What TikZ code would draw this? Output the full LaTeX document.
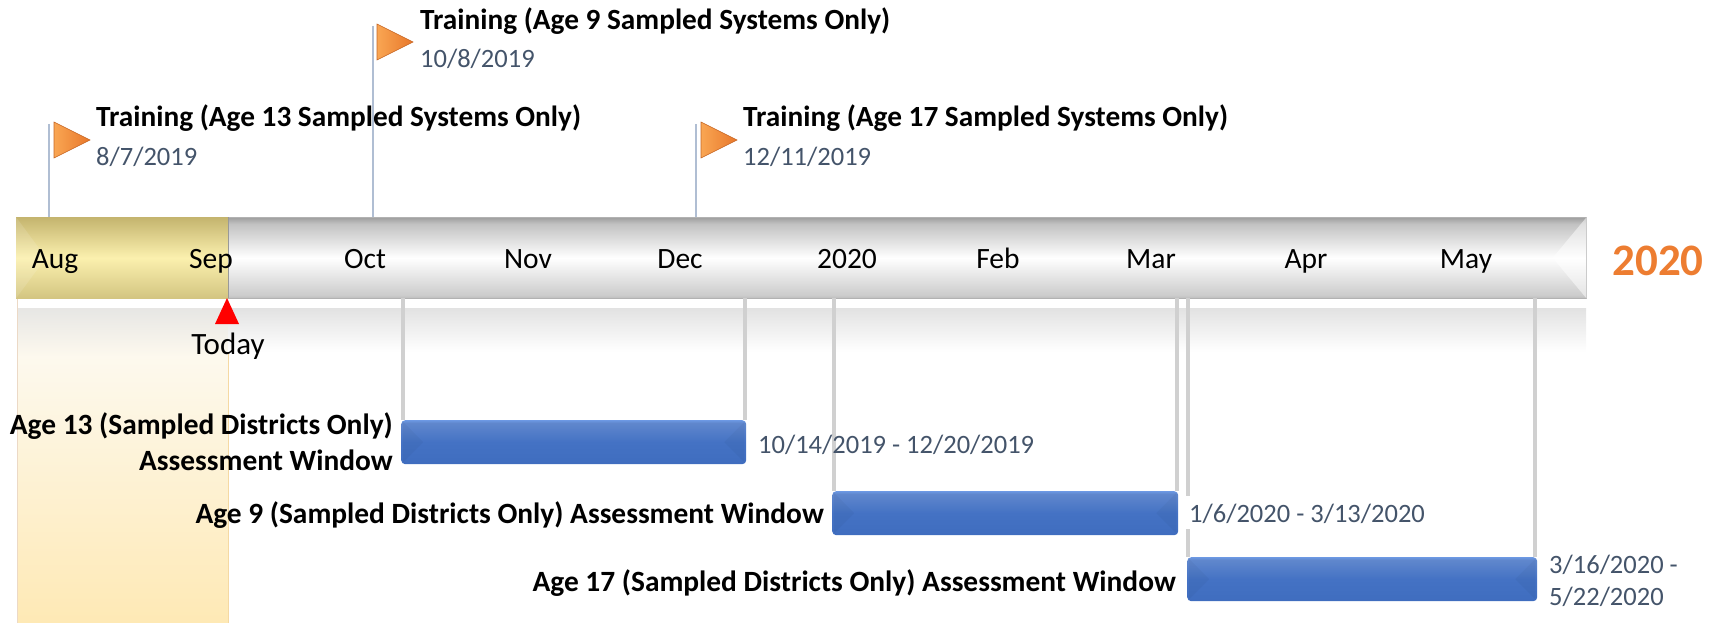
\documentclass[tikz,border=0pt]{standalone}
\usepackage{fontspec}
\setmainfont{Carlito}
\usetikzlibrary{calc,positioning}
\definecolor{mdate}{HTML}{44546A}
\definecolor{morange}{HTML}{ED7D31}
\definecolor{mflag}{HTML}{F9A653}
\definecolor{mflagdark}{HTML}{E8772A}
\definecolor{mpole}{HTML}{B0BED3}
\definecolor{mguide}{HTML}{D0D0D0}
\pgfdeclareverticalshading{barshade}{100bp}{color(0bp)=(white!72!black); color(25bp)=(white!74!black); color(27bp)=(white!80!black); color(50bp)=(white); color(71bp)=(white!76!black); color(75bp)=(white!62!black); color(100bp)=(white!62!black)}
\definecolor{ytop}{HTML}{C4B46E}
\definecolor{ymid}{HTML}{FBF0AE}
\definecolor{ybot}{HTML}{D3C581}
\pgfdeclareverticalshading{pastshade}{100bp}{color(0bp)=(ybot); color(25bp)=(ybot); color(50bp)=(ymid); color(75bp)=(ytop); color(100bp)=(ytop)}
\definecolor{btop}{HTML}{6C98E2}
\definecolor{bmid}{HTML}{4472C4}
\definecolor{bbot}{HTML}{3F6DBF}
\pgfdeclareverticalshading{windowshade}{100bp}{color(0bp)=(bbot); color(25bp)=(bbot); color(50bp)=(bmid); color(72bp)=(white!15!bmid); color(75bp)=(btop); color(100bp)=(btop)}
\definecolor{bandg}{HTML}{E2E2E2}
\definecolor{bandm}{HTML}{FDF9EE}
\definecolor{bandb}{HTML}{FEE9B5}
\pgfdeclareverticalshading{bandshade}{100bp}{color(0bp)=(bandb); color(25bp)=(bandb); color(66bp)=(bandm); color(75bp)=(bandg); color(100bp)=(bandg)}
\tikzset{
    month/.style={font=\fontsize{29.5}{32}\selectfont, anchor=base, inner sep=0pt},
    title/.style={font=\fontsize{29.3}{32}\selectfont\bfseries, anchor=base west, inner sep=0pt},
    datelabel/.style={font=\fontsize{26.5}{30}\selectfont, text=mdate, anchor=base west, inner sep=0pt},
    windowlabel/.style={font=\fontsize{29.4}{36}\selectfont\bfseries, anchor=base east, align=right, inner sep=0pt},
    window/.style={shading=windowshade, rounded corners=4pt, anchor=north west, inner sep=0pt, minimum height=44pt},
    flag/.style={draw=mflagdark!85!black, line width=0.6pt, left color=mflag, right color=mflagdark},
    pole/.style={mpole, line width=2pt},
    guide/.style={mguide, line width=4pt},
    bevel/.style={black, opacity=0.03}
}

\begin{document}
\begin{tikzpicture}[x=1pt, y=-1pt]
    \useasboundingbox (0,0) rectangle (1718,623);

    % band below the bar
    \shade[shading=bandshade] (17,298) rectangle (228,623);
    \fill[white] (17,298) rectangle (228,308);
    \draw[white!70!brown, line width=0.8pt] (17,298) -- (17,623);
    \draw[bandb!85!brown, line width=0.8pt] (228,308) -- (228,623);
    \shade[top color=bandg, bottom color=white] (228,308) rectangle (1586,352);

    % timeline
    \node[shading=barshade, draw=white!70!black, line width=0.7pt, anchor=north west, inner sep=0pt, minimum width=1570pt, minimum height=81pt] (bar) at (16,217) {};
    \node[shading=pastshade, anchor=north west, inner sep=0pt, minimum width=212pt, minimum height=81pt] (past) at (16,217) {};
    \fill[white, opacity=0.12] (past.north west) -- ($(past.west)+(30,0)$) -- (past.south west) -- cycle;
    \fill[white, opacity=0.5] (bar.north east) -- ($(bar.east)+(-34,0)$) -- (bar.south east) -- cycle;
    \draw[white!60!black, line width=0.8pt] (past.north east) -- (past.south east);

    \node[month] (aug) at (55,268) {Aug};
    \node[month] (sep) at (211,268) {Sep};
    \node[month] (oct) at (365,268) {Oct};
    \node[month] (nov) at (528,268) {Nov};
    \node[month] (dec) at (680,268) {Dec};
    \node[month] (jan) at (847,268) {2020};
    \node[month] (feb) at (998,268) {Feb};
    \node[month] (mar) at (1151,268) {Mar};
    \node[month] (apr) at (1306,268) {Apr};
    \node[month] (may) at (1466,268) {May};
    \node[font=\fontsize{45}{48}\selectfont\bfseries, text=morange, anchor=base, inner sep=0pt] (year) at (1658,275) {2020};

    % today
    \fill[red] (227,298) -- (239,324) -- (215,324) -- cycle;
    \node[month, font=\fontsize{31}{34}\selectfont] (today) at (228,354) {Today};

    % training flags
    \coordinate (pole1) at (49,124);
    \coordinate (pole2) at (372.5,26);
    \coordinate (pole3) at (696,124);
    \draw[pole] (pole1) -- (pole1 |- bar.north);
    \draw[pole] (pole2) -- (pole2 |- bar.north);
    \draw[pole] (pole3) -- (pole3 |- bar.north);
    \draw[flag] (54,122) -- (90,140) -- (54,158) -- cycle;
    \draw[flag] (377,24) -- (413,42) -- (377,60) -- cycle;
    \draw[flag] (701,122) -- (737,140) -- (701,158) -- cycle;
    \node[title] (train13) at (96,127) {Training (Age 13 Sampled Systems Only)};
    \node[datelabel] (date13) at (96,165) {8/7/2019};
    \node[title] (train9) at (420,30) {Training (Age 9 Sampled Systems Only)};
    \node[datelabel] (date9) at (420,68) {10/8/2019};
    \node[title] (train17) at (743,127) {Training (Age 17 Sampled Systems Only)};
    \node[datelabel] (date17) at (743,165) {12/11/2019};

    % windows
    \draw[guide] (403,298) -- (403,420);
    \draw[guide] (745,298) -- (745,420);
    \draw[guide] (834,298) -- (834,491);
    \draw[guide] (1177,298) -- (1177,491);
    \draw[guide] (1188,298) -- (1188,557);
    \draw[guide] (1535,298) -- (1535,557);

    \node[window, minimum width=345pt] (win13) at (401,420) {};
    \node[window, minimum width=346pt] (win9) at (832,491) {};
    \node[window, minimum width=350pt] (win17) at (1187,557) {};

    \fill[bevel] ($(win13.north west)+(2,2)$) -- ($(win13.north west)+(22,22)$) -- ($(win13.south west)+(22,-22)$) -- ($(win13.south west)+(2,-2)$) -- cycle;
    \fill[bevel] ($(win13.north east)+(-2,2)$) -- ($(win13.north east)+(-22,22)$) -- ($(win13.south east)+(-22,-22)$) -- ($(win13.south east)+(-2,-2)$) -- cycle;
    \fill[bevel] ($(win9.north west)+(2,2)$) -- ($(win9.north west)+(22,22)$) -- ($(win9.south west)+(22,-22)$) -- ($(win9.south west)+(2,-2)$) -- cycle;
    \fill[bevel] ($(win9.north east)+(-2,2)$) -- ($(win9.north east)+(-22,22)$) -- ($(win9.south east)+(-22,-22)$) -- ($(win9.south east)+(-2,-2)$) -- cycle;
    \fill[bevel] ($(win17.north west)+(2,2)$) -- ($(win17.north west)+(22,22)$) -- ($(win17.south west)+(22,-22)$) -- ($(win17.south west)+(2,-2)$) -- cycle;
    \fill[bevel] ($(win17.north east)+(-2,2)$) -- ($(win17.north east)+(-22,22)$) -- ($(win17.south east)+(-22,-22)$) -- ($(win17.south east)+(-2,-2)$) -- cycle;

    \node[windowlabel] (label13) at (393,470) {Age 13 (Sampled Districts Only)\\Assessment Window};
    \node[windowlabel] (label9) at (824,523) {Age 9 (Sampled Districts Only) Assessment Window};
    \node[windowlabel] (label17) at (1176,591) {Age 17 (Sampled Districts Only) Assessment Window};

    \node[datelabel] (range13) at (758,453) {10/14/2019 - 12/20/2019};
    \node[datelabel, fill=white, inner xsep=3pt, text height=26pt, text depth=7pt] (range9) at (1186,522) {1/6/2020 - 3/13/2020};
    \node[datelabel, align=left, font=\fontsize{26.5}{32}\selectfont] (range17) at (1549,605) {3/16/2020 -\\5/22/2020};
\end{tikzpicture}
\end{document}
